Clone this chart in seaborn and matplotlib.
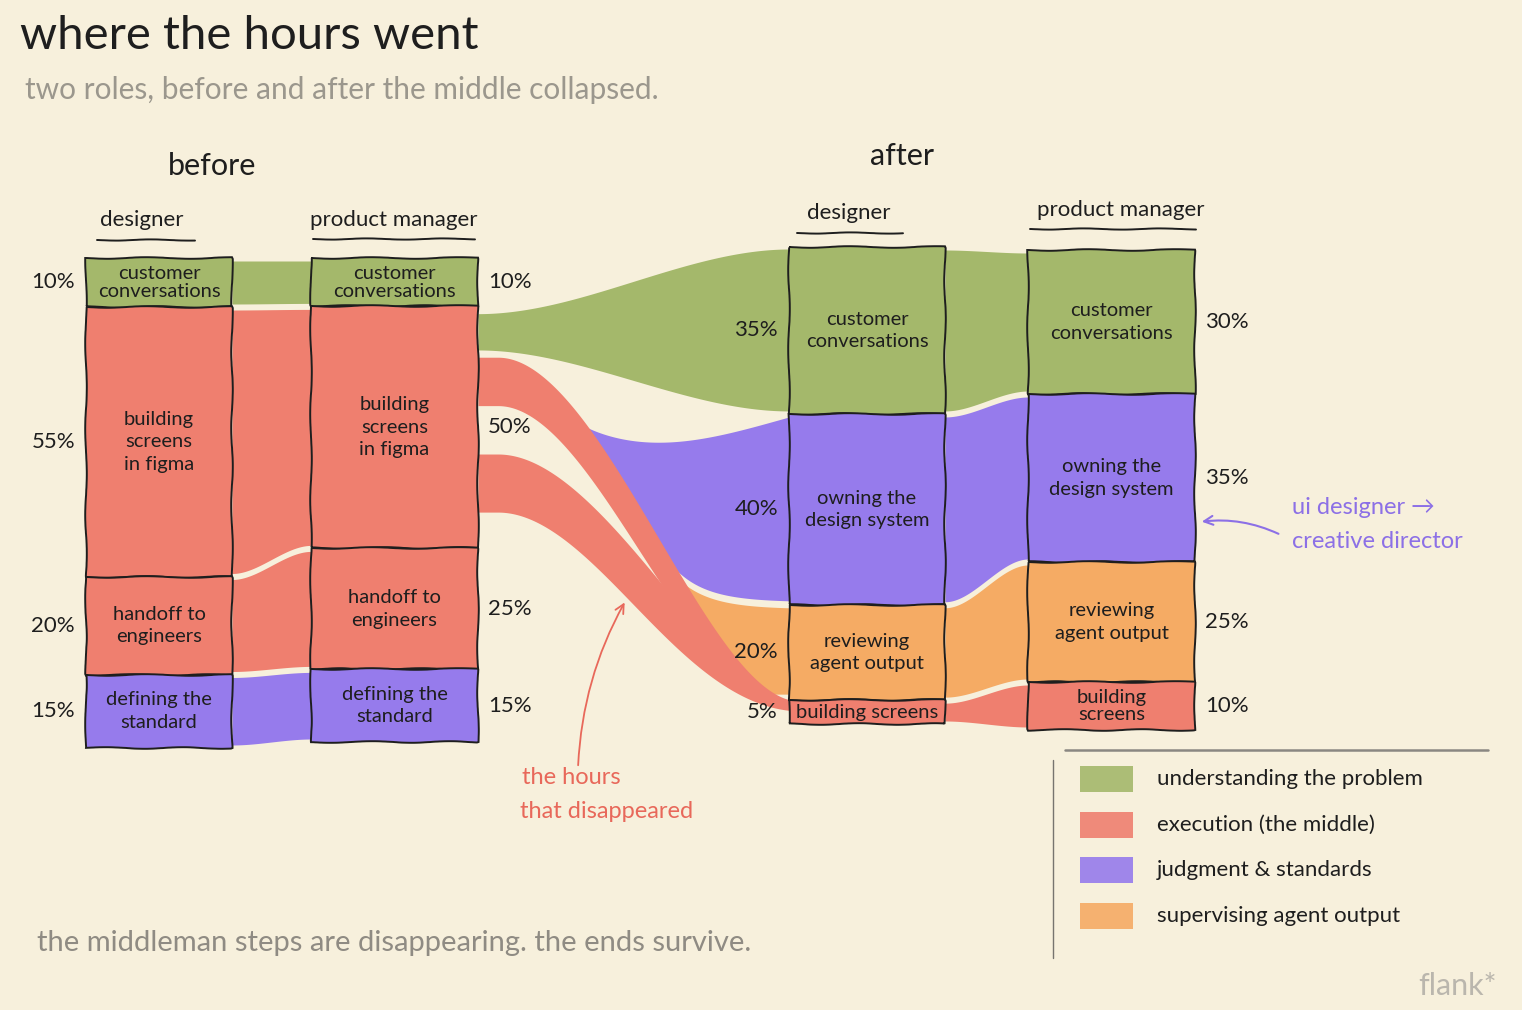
import numpy as np
import matplotlib
matplotlib.use("Agg")
import matplotlib.pyplot as plt
from matplotlib.patches import Rectangle
import seaborn as sns

# ---------------- data ----------------
groups = ["understanding the problem", "execution (the middle)",
          "judgment & standards", "supervising agent output"]
group_hex = ["#a4b86b", "#ef7f6f", "#967bec", "#f5ab64"]

bd_labels = ["customer\nconversations", "building\nscreens\nin figma",
             "handoff to\nengineers", "defining the\nstandard"]
bd_values = [10, 55, 20, 15]
bd_groups = [0, 1, 1, 2]

bpm_labels = ["customer\nconversations", "building\nscreens\nin figma",
              "handoff to\nengineers", "defining the\nstandard"]
bpm_values = [10, 50, 25, 15]
bpm_groups = [0, 1, 1, 2]

ad_labels = ["customer\nconversations", "owning the\ndesign system",
             "reviewing\nagent output", "building screens"]
ad_values = [35, 40, 20, 5]
ad_groups = [0, 2, 3, 1]

apm_labels = ["customer\nconversations", "owning the\ndesign system",
              "reviewing\nagent output", "building\nscreens"]
apm_values = [30, 35, 25, 10]
apm_groups = [0, 2, 3, 1]

role_titles = ["designer", "product manager", "designer", "product manager"]
phase_titles = ["before", "after"]

# ---------------- style ----------------
sns.set_theme(style="white")
plt.rcParams["font.family"] = ["Lato", "DejaVu Sans"]
palette = sns.color_palette(group_hex)
BG = "#f7f0dc"
INK = "#1e1e1e"

W, H = 1522, 1010
fig = plt.figure(figsize=(W / 100, H / 100), dpi=100)
fig.patch.set_facecolor(BG)
ax = fig.add_axes([0, 0, 1, 1])
ax.set_xlim(0, W)
ax.set_ylim(H, 0)
ax.axis("off")
ax.set_facecolor(BG)

# layout of the four columns (pixel space)
cols = [
    dict(x0=86, x1=232, top=258, bot=748, side="left", vals=bd_values, labs=bd_labels, grp=bd_groups,
         head_x=142, head_y=220, ul=(97, 195, 240)),
    dict(x0=311, x1=478, top=258, bot=742, side="right", vals=bpm_values, labs=bpm_labels, grp=bpm_groups,
         head_x=394, head_y=220, ul=(313, 475, 239)),
    dict(x0=789, x1=945, top=247, bot=724, side="left", vals=ad_values, labs=ad_labels, grp=ad_groups,
         head_x=849, head_y=213, ul=(797, 903, 233)),
    dict(x0=1028, x1=1195, top=250, bot=730, side="right", vals=apm_values, labs=apm_labels, grp=apm_groups,
         head_x=1121, head_y=210, ul=(1030, 1196, 229)),
]
for c in cols:
    cum = np.concatenate([[0], np.cumsum(c["vals"])]) / np.sum(c["vals"])
    c["e"] = c["top"] + (c["bot"] - c["top"]) * cum


def smooth(t):
    t = np.clip(t, 0, 1)
    return t * t * (3 - 2 * t)


def ribbon(x0, x1, t0, b0, t1, b1, color, z=1):
    xs = np.linspace(x0, x1, 300)
    s = smooth((xs - x0) / (x1 - x0))
    ax.fill_between(xs, t0 + (t1 - t0) * s, b0 + (b1 - b0) * s,
                    color=color, lw=0, zorder=z)


# ribbons inside each phase
for a, b in [(cols[0], cols[1]), (cols[2], cols[3])]:
    for i in range(len(a["vals"])):
        ribbon(a["x1"], b["x0"], a["e"][i] + 3, a["e"][i + 1] - 3,
               b["e"][i] + 3, b["e"][i + 1] - 3, palette[a["grp"][i]])

# ---------------- transition: before PM -> after designer ----------------
src, dst = cols[1], cols[2]


def src_y(p):
    return src["top"] + (src["bot"] - src["top"]) * p / 100.0


strand_green = (11.5, 19.0)
strand_red_a = (20.5, 30.5)
strand_red_b = (40.5, 52.5)
fall_span = (498, 800)   # where the red strands sweep down

xa, xb = src["x1"], dst["x0"]
xs = np.linspace(xa, xb, 700)
e = dst["e"]
cust_t, cust_b = e[0], e[1]
own_t, own_b = e[1], e[2]
rev_t, rev_b = e[2], e[3]
bld_t, bld_b = e[3], e[4]
red_t1, red_b1 = bld_t + 1, bld_t + 0.45 * (bld_b - bld_t)

# green
ribbon(xa, xb, src_y(strand_green[0]), src_y(strand_green[1]), cust_t + 2, cust_b - 3, palette[0])


def strand(p):
    s = smooth((xs - fall_span[0]) / (fall_span[1] - fall_span[0]))
    y0, y1 = src_y(p[0]), src_y(p[1])
    c0, c1 = 0.5 * (y0 + y1), 0.5 * (red_t1 + red_b1)
    w0, w1 = y1 - y0, red_b1 - red_t1
    cen = c0 + (c1 - c0) * s
    w = w0 + (w1 - w0) * s ** 3
    return cen - w / 2, cen + w / 2, cen


a_top, a_bot, a_mid = strand(strand_red_a)
b_top, b_bot, b_mid = strand(strand_red_b)

# purple emerging from strand A
xp0 = 570
m = xs >= xp0
tp = np.clip((xs - xp0) / (xb - xp0), 0, 1)
start_top = np.interp(xp0, xs, a_top) + 12
p_top = start_top + (own_t + 3 - start_top) * smooth(tp) + 26 * np.sin(np.pi * tp ** 0.75)
xk = 655
a_k = np.interp(xk, xs, a_top) + 8
h = np.where(xs >= xk, (own_b - 3) - ((own_b - 3) - a_k) * np.exp(-(xs - xk) / 32.0), 1e6)
p_bot = np.minimum(a_top + 10, h)
ax.fill_between(xs[m], p_top[m], p_bot[m], where=(p_bot[m] > p_top[m]),
                color=palette[2], lw=0, zorder=1)

# orange emerging below purple
o_top = p_bot + 7
o_bot = np.minimum(a_mid, rev_b - 6)
ax.fill_between(xs[m], o_top[m], o_bot[m], where=(o_bot[m] > o_top[m]),
                color=palette[3], lw=0, zorder=1)

# red strands (what is left of the middle)
ax.fill_between(xs, b_top, b_bot, color=palette[1], lw=0, zorder=2)
ax.fill_between(xs, a_top, a_bot, color=palette[1], lw=0, zorder=2)

# ---------------- nodes ----------------
for k, c in enumerate(cols):
    for i, v in enumerate(c["vals"]):
        y0, y1 = c["e"][i], c["e"][i + 1]
        r = Rectangle((c["x0"], y0), c["x1"] - c["x0"], y1 - y0,
                      facecolor=palette[c["grp"][i]], edgecolor=INK, lw=1.4, zorder=3)
        r.set_sketch_params(0.8, 90, 2)
        ax.add_patch(r)
        cy = 0.5 * (y0 + y1)
        ls = 1.05 if (y1 - y0) < 65 else 1.4
        ax.text(0.5 * (c["x0"] + c["x1"]), cy, c["labs"][i], ha="center", va="center",
                fontsize=14.5, color=INK, linespacing=ls, zorder=4)
        if c["side"] == "left":
            ax.text(c["x0"] - 11, cy, f"{v}%", ha="right", va="center", fontsize=16, color=INK, zorder=4)
        else:
            ax.text(c["x1"] + 10, cy, f"{v}%", ha="left", va="center", fontsize=16, color=INK, zorder=4)
    ax.text(c["head_x"], c["head_y"], role_titles[k], ha="center", va="center",
            fontsize=16, color=INK)
    ln, = ax.plot([c["ul"][0], c["ul"][1]], [c["ul"][2], c["ul"][2]], color=INK, lw=1.4)
    ln.set_sketch_params(0.6, 80, 2)

# ---------------- titles ----------------
ax.text(20, 36, "where the hours went", ha="left", va="center", fontsize=34, color=INK)
ax.text(25, 90, "two roles, before and after the middle collapsed.", ha="left", va="center",
        fontsize=21.5, color="#9b978d")
ax.text(212, 166, phase_titles[0], ha="center", va="center", fontsize=22, color=INK)
ax.text(902, 156, phase_titles[1], ha="center", va="center", fontsize=22, color=INK)

# ---------------- annotations ----------------
RED_TXT = "#e8685a"
PUR_TXT = "#8c70e6"
ax.text(522, 778, "the hours", ha="left", va="center", fontsize=17, color=RED_TXT)
ax.text(520, 811, "that disappeared", ha="left", va="center", fontsize=17, color=RED_TXT)
ax.annotate("", xy=(626, 600), xytext=(578, 768),
            arrowprops=dict(arrowstyle="->", color=RED_TXT, lw=1.3, mutation_scale=16,
                            connectionstyle="arc3,rad=-0.12"))
ax.text(1292, 508, "ui designer \u2192", ha="left", va="center", fontsize=17, color=PUR_TXT)
ax.text(1292, 541, "creative director", ha="left", va="center", fontsize=17, color=PUR_TXT)
ax.annotate("", xy=(1199, 522), xytext=(1281, 535),
            arrowprops=dict(arrowstyle="->", color=PUR_TXT, lw=1.5, mutation_scale=16,
                            connectionstyle="arc3,rad=0.15"))

ax.text(37, 943, "the middleman steps are disappearing. the ends survive.", ha="left", va="center",
        fontsize=21, color="#8f8b83")
ax.text(1497, 986, "flank*", ha="right", va="center", fontsize=22, color="#bab6ad")

# ---------------- legend ----------------
ax.plot([1065, 1488], [750, 750], color="#8a8782", lw=1.8)
ax.plot([1053, 1053], [760, 958], color="#77746f", lw=1.0)
for i, g in enumerate(groups):
    yc = 779 + i * 45.7
    p = Rectangle((1080, yc - 13), 53, 26, facecolor=palette[i], edgecolor="none", alpha=0.9)
    ax.add_patch(p)
    ax.text(1157, yc, g, ha="left", va="center", fontsize=16, color=INK)

fig.savefig("out.png", dpi=100, facecolor=BG)
